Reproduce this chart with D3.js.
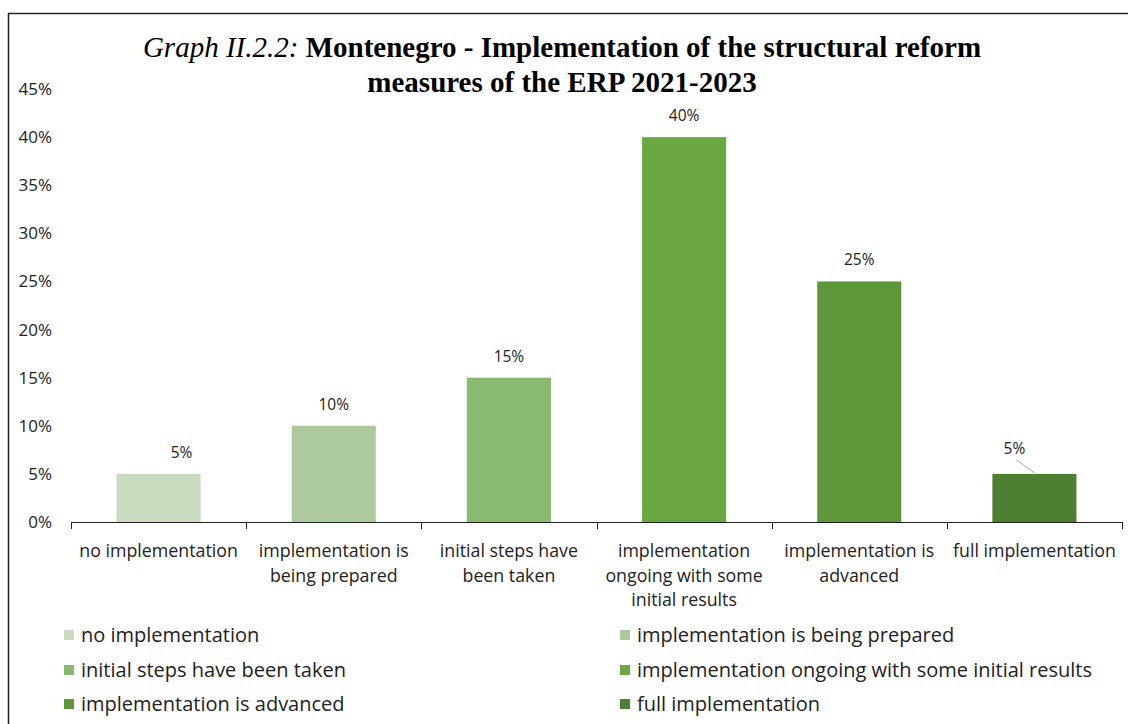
<!DOCTYPE html>
<html>
<head>
<meta charset="utf-8">
<script src="https://cdn.jsdelivr.net/npm/d3@7"></script>
<style>
  body { margin: 0; background: #fff; }
  svg { display: block; }
</style>
</head>
<body>
<svg id="chart" width="1128" height="724"></svg>
<script>
'use strict';

// chart data
const categories = [
    'no implementation',
    'implementation is being prepared',
    'initial steps have been taken',
    'implementation ongoing with some initial results',
    'implementation is advanced',
    'full implementation'
];
const tickLines = [
    ['no implementation'],
    ['implementation is', 'being prepared'],
    ['initial steps have', 'been taken'],
    ['implementation', 'ongoing with some', 'initial results'],
    ['implementation is', 'advanced'],
    ['full implementation']
];
const values = [0.05, 0.10, 0.15, 0.40, 0.25, 0.05];
const yTicks = [0, 0.05, 0.10, 0.15, 0.20, 0.25, 0.30, 0.35, 0.40, 0.45];
const colors = ['#c9dcc0', '#adca9e', '#8ab970', '#6aa842', '#5e9739', '#4f7f32'];

const svg = d3.select('#chart');
const font = '"Open Sans", sans-serif';

// frame (only top and left visible in the crop)
svg.append('line').attr('x1', 8).attr('x2', 1128).attr('y1', 13.5).attr('y2', 13.5)
    .attr('stroke', '#222').attr('stroke-width', 1.5);
svg.append('line').attr('x1', 8.5).attr('x2', 8.5).attr('y1', 13).attr('y2', 724)
    .attr('stroke', '#222').attr('stroke-width', 1.5);

// title
const title = svg.append('text')
    .attr('text-anchor', 'middle')
    .attr('font-family', '"Liberation Serif", "Times New Roman", serif')
    .attr('font-size', 29)
    .attr('fill', '#000');
const t1 = title.append('tspan').attr('x', 562).attr('y', 57);
t1.append('tspan').attr('font-style', 'italic').text('Graph II.2.2: ');
t1.append('tspan').attr('font-weight', 'bold').text('Montenegro - Implementation of the structural reform');
title.append('tspan').attr('x', 562).attr('y', 92).attr('font-weight', 'bold')
    .text('measures of the ERP 2021-2023');

// scales
const x = d3.scaleBand().domain(categories).range([71, 1122]).paddingInner(0.52).paddingOuter(0.26);
const xEdge = d3.scaleLinear().domain([0, categories.length]).range([71, 1122]);
const y = d3.scaleLinear().domain([0, 0.45]).range([522, 89]);

// y axis labels (no line, no grid)
const yAxis = svg.append('g').attr('transform', 'translate(52,0)')
    .call(d3.axisLeft(y).tickValues(yTicks).tickFormat(d3.format('.0%')).tickSize(0).tickPadding(0));
yAxis.select('.domain').remove();
yAxis.selectAll('text').attr('font-family', font).attr('font-size', 17).attr('fill', '#222');

// bars
svg.append('g').selectAll('rect')
    .data(values)
    .join('rect')
    .attr('x', (d, i) => x(categories[i]))
    .attr('y', d => y(d))
    .attr('width', x.bandwidth())
    .attr('height', d => y(0) - y(d))
    .attr('fill', (d, i) => colors[i]);

// x axis with ticks at category edges
const xg = svg.append('g');
xg.append('line').attr('x1', xEdge(0)).attr('x2', xEdge(6)).attr('y1', 522.5).attr('y2', 522.5)
    .attr('stroke', '#222').attr('stroke-width', 1);
xg.selectAll('line.tick')
    .data(d3.range(categories.length + 1))
    .join('line')
    .attr('class', 'tick')
    .attr('x1', d => Math.round(xEdge(d)) + 0.5)
    .attr('x2', d => Math.round(xEdge(d)) + 0.5)
    .attr('y1', 522).attr('y2', 529)
    .attr('stroke', '#222');

const tl = xg.selectAll('text.cat')
    .data(tickLines)
    .join('text')
    .attr('class', 'cat')
    .attr('text-anchor', 'middle')
    .attr('font-family', font)
    .attr('font-size', 17.8)
    .attr('fill', '#222');
tl.each(function(lines, i) {
    const cx = x(categories[i]) + x.bandwidth() / 2;
    d3.select(this).selectAll('tspan')
        .data(lines)
        .join('tspan')
        .attr('x', cx)
        .attr('y', (d, j) => 557 + j * 24.5)
        .text(d => d);
});

// data labels; first and last are nudged like in the original
const labelDx = [23, 0, 0, 0, 0, -20];
const labelDy = [-16, -16, -16, -16, -16, -20];
svg.append('g').selectAll('text')
    .data(values)
    .join('text')
    .attr('x', (d, i) => x(categories[i]) + x.bandwidth() / 2 + labelDx[i])
    .attr('y', (d, i) => y(d) + labelDy[i])
    .attr('text-anchor', 'middle')
    .attr('font-family', font)
    .attr('font-size', 15.5)
    .attr('fill', '#222')
    .text(d => d3.format('.0%')(d));

// leader line for the last label
const lastI = values.length - 1;
const lcx = x(categories[lastI]) + x.bandwidth() / 2;
svg.append('line')
    .attr('x1', lcx + labelDx[lastI] + 2).attr('y1', y(values[lastI]) - 14)
    .attr('x2', lcx).attr('y2', y(values[lastI]) - 1)
    .attr('stroke', '#a6a6a6').attr('stroke-width', 1);

// legend, two columns
const legendX = [64, 620];
const legendY = [635, 670, 704];
const lg = svg.append('g').selectAll('g')
    .data(categories)
    .join('g')
    .attr('transform', (d, i) => `translate(${legendX[i % 2]},${legendY[Math.floor(i / 2)]})`);
lg.append('rect').attr('x', 0).attr('y', -5).attr('width', 10).attr('height', 10)
    .attr('fill', (d, i) => colors[i]);
lg.append('text').attr('x', 17).attr('y', 0).attr('dy', '0.35em')
    .attr('font-family', font).attr('font-size', 20).attr('fill', '#222')
    .text(d => d);
</script>
</body>
</html>
